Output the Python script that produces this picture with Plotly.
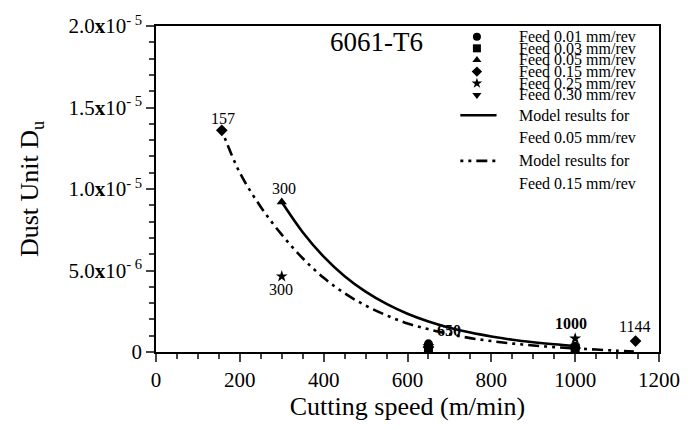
import plotly.graph_objects as go

# ---------------- data ----------------
feed_names = ["Feed 0.01 mm/rev", "Feed 0.03 mm/rev", "Feed 0.05 mm/rev",
              "Feed 0.15 mm/rev", "Feed 0.25 mm/rev", "Feed 0.30 mm/rev"]
feed_symbols = ["circle", "square", "triangle-up", "diamond", "star", "triangle-down"]

f001_x = [650, 1000]
f001_y = [0.5e-6, 0.35e-6]
f003_x = [650, 1000]
f003_y = [0.2e-6, 0.24e-6]
f005_x = [300, 650, 1000]
f005_y = [9.2e-6, 0.4e-6, 0.3e-6]
f015_x = [157, 650, 1000, 1144]
f015_y = [1.36e-5, 0.3e-6, 0.24e-6, 0.67e-6]
f025_x = [300, 650, 1000]
f025_y = [4.64e-6, 0.35e-6, 0.83e-6]
f030_x = [650, 1000]
f030_y = [0.3e-6, 0.24e-6]

model005_x = [300, 350, 400, 450, 500, 550, 600, 650, 700, 750, 800, 850, 900, 950, 1000]
model005_y = [9.2e-6, 7.35e-6, 5.85e-6, 4.65e-6, 3.7e-6, 2.95e-6, 2.35e-6, 1.87e-6,
              1.49e-6, 1.19e-6, 0.95e-6, 0.75e-6, 0.6e-6, 0.48e-6, 0.38e-6]
model015_x = [157, 200, 250, 300, 350, 400, 450, 500, 550, 600, 650, 700, 750, 800,
              850, 900, 950, 1000, 1050, 1100, 1140]
model015_y = [1.36e-5, 1.1e-5, 8.9e-6, 7.2e-6, 5.75e-6, 4.55e-6, 3.6e-6, 2.85e-6,
              2.25e-6, 1.75e-6, 1.4e-6, 1.1e-6, 0.85e-6, 0.67e-6, 0.52e-6, 0.4e-6,
              0.3e-6, 0.22e-6, 0.15e-6, 0.08e-6, 0.03e-6]

label_text = ["157", "300", "300", "650", "1000", "1144"]
label_x = [160, 305, 298, 700, 989, 1141]
label_y = [1.43e-5, 1.006e-5, 3.81e-6, 1.31e-6, 1.73e-6, 1.55e-6]
label_bold = [False, False, False, True, True, False]

ytick_vals = [0, 5e-6, 1e-5, 1.5e-5, 2e-5]
ytick_text = ["0", "5.0<b>x</b>10<sup>- 6</sup>", "1.0<b>x</b>10<sup>- 5</sup>",
              "1.5<b>x</b>10<sup>- 5</sup>", "2.0<b>x</b>10<sup>- 5</sup>"]
xtick_vals = [0, 200, 400, 600, 800, 1000, 1200]

FONT = "Liberation Serif"
DASHDOT = "3px,5px,3px,5px,11px,5px"

fig = go.Figure()

# model curves
fig.add_trace(go.Scatter(x=model005_x, y=model005_y, mode="lines",
                         line=dict(color="black", width=2.6, shape="spline"),
                         showlegend=False))
fig.add_trace(go.Scatter(x=model015_x, y=model015_y, mode="lines",
                         line=dict(color="black", width=2.6, dash=DASHDOT, shape="spline"),
                         showlegend=False))

# experimental points
for xs, ys, sym in [(f001_x, f001_y, "circle"), (f003_x, f003_y, "square"),
                    (f005_x, f005_y, "triangle-up"), (f015_x, f015_y, "diamond"),
                    (f025_x, f025_y, "star"), (f030_x, f030_y, "triangle-down")]:
    fig.add_trace(go.Scatter(x=xs, y=ys, mode="markers",
                             marker=dict(symbol=sym, size=9, color="black",
                                         line=dict(width=0)),
                             showlegend=False))

# ---------- hand-built legend (plot-fraction coordinates on hidden axes) ----------
leg_x_marker = 0.638
leg_rows_y = [0.9673, 0.9315, 0.8958, 0.8601, 0.8244, 0.7887]
for sym, ry in zip(feed_symbols, leg_rows_y):
    fig.add_trace(go.Scatter(x=[leg_x_marker], y=[ry], mode="markers", xaxis="x2", yaxis="y2",
                             marker=dict(symbol=sym, size=8, color="black", line=dict(width=0)),
                             showlegend=False, hoverinfo="skip"))
fig.add_trace(go.Scatter(x=[0.605, 0.677], y=[0.7262, 0.7262], mode="lines", xaxis="x2", yaxis="y2",
                         line=dict(color="black", width=2.6), showlegend=False, hoverinfo="skip"))
fig.add_trace(go.Scatter(x=[0.605, 0.677], y=[0.5863, 0.5863], mode="lines", xaxis="x2", yaxis="y2",
                         line=dict(color="black", width=2.6, dash=DASHDOT),
                         showlegend=False, hoverinfo="skip"))

leg_text_x = 0.718
leg_texts = feed_names + ["Model results for", "Feed 0.05 mm/rev",
                          "Model results for", "Feed 0.15 mm/rev"]
leg_texts_y = leg_rows_y + [0.7262, 0.6577, 0.5863, 0.5179]

annotations = []
for t, ty in zip(leg_texts, leg_texts_y):
    annotations.append(dict(x=leg_text_x, y=ty, xref="paper", yref="paper", text=t,
                            showarrow=False, xanchor="left", yanchor="middle",
                            font=dict(family=FONT, size=16, color="black")))

for t, lx, ly, b in zip(label_text, label_x, label_y, label_bold):
    annotations.append(dict(x=lx, y=ly, xref="x", yref="y",
                            text=("<b>%s</b>" % t) if b else t, showarrow=False,
                            xanchor="center", yanchor="middle",
                            font=dict(family=FONT, size=16, color="black")))

annotations.append(dict(x=0.438, y=0.952, xref="paper", yref="paper", text="6061-T6",
                        showarrow=False, xanchor="center", yanchor="middle",
                        font=dict(family=FONT, size=27, color="black")))

fig.update_layout(
    width=692, height=430,
    margin=dict(l=156, r=25, t=16, b=78),
    paper_bgcolor="white", plot_bgcolor="white",
    font=dict(family=FONT, color="black"),
    annotations=annotations,
    xaxis=dict(range=[0, 1200], tickvals=xtick_vals, ticks="outside", ticklen=8, tickwidth=1.5,
               minor=dict(dtick=50, ticks="outside", ticklen=5, tickwidth=1.5, tick0=0),
               showline=True, linecolor="black", linewidth=1.5, mirror=True,
               showgrid=False, zeroline=False,
               tickfont=dict(family=FONT, size=21, color="black"),
               title=dict(text="Cutting speed (m/min)", standoff=6,
                          font=dict(family=FONT, size=26, color="black"))),
    yaxis=dict(range=[0, 2e-5], tickvals=ytick_vals, ticktext=ytick_text,
               ticks="outside", ticklen=8, tickwidth=1.5,
               minor=dict(dtick=1e-6, ticks="outside", ticklen=5, tickwidth=1.5, tick0=0),
               showline=True, linecolor="black", linewidth=1.5, mirror=True,
               showgrid=False, zeroline=False,
               tickfont=dict(family=FONT, size=21, color="black"),
               title=dict(text="Dust Unit D<sub>u</sub>", standoff=22,
                          font=dict(family=FONT, size=26, color="black"))),
    xaxis2=dict(range=[0, 1], overlaying="x", visible=False, fixedrange=True),
    yaxis2=dict(range=[0, 1], overlaying="y", visible=False, fixedrange=True),
)

fig.write_html("out.html")
